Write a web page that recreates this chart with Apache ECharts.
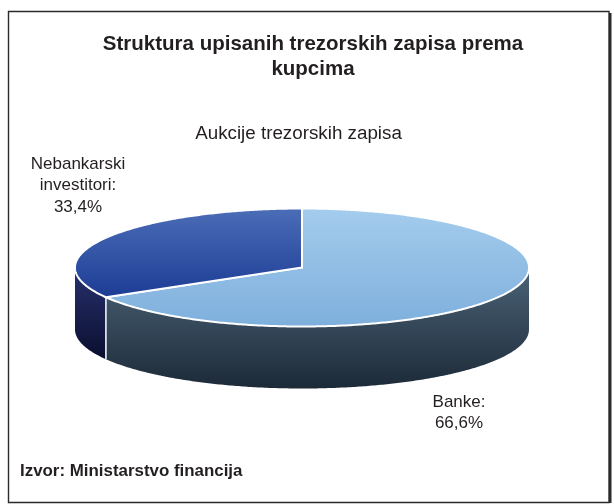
<!DOCTYPE html>
<html>
<head>
<meta charset="utf-8">
<style>html,body{margin:0;padding:0;background:#fff}#c{width:614px;height:504px}</style>
<script src="https://cdn.jsdelivr.net/npm/echarts@6/dist/echarts.min.js"></script>
</head>
<body>
<div id="c"></div>
<script>
var categories = ['Banke', 'Nebankarski\ninvestitori'];
var shares = [66.6, 33.4];
var valueLabels = ['66,6%', '33,4%'];
var titleText = 'Struktura upisanih trezorskih zapisa prema\nkupcima';
var subtitleText = 'Aukcije trezorskih zapisa';
var sourceText = 'Izvor: Ministarstvo financija';

var FONT = '"Liberation Sans", Arial, sans-serif';
var INK = '#231f20';
var CX = 302, CY = 267.5, RX = 227, RY = 59, DEPTH = 62;
var topFill = [['#a4cced', '#7eafdc'], ['#4c6db7', '#1c3c95']];
var wallFill = [['#4b6377', '#1c2a38'], ['#28316f', '#0a0f2e']];
var labelAt = [[459, 413], [78, 185.5]];

function px(a) { return CX + RX * Math.sin(a); }
function py(a) { return CY - RY * Math.cos(a); }
function grad(c) {
  return { type: 'linear', x: 0, y: 0, x2: 0, y2: 1,
    colorStops: [{ offset: 0, color: c[0] }, { offset: 1, color: c[1] }] };
}
function arcPoints(a0, a1, dy) {
  var pts = [], n = Math.max(2, Math.ceil(Math.abs(a1 - a0) / 0.01));
  for (var i = 0; i <= n; i++) {
    var a = a0 + (a1 - a0) * i / n;
    pts.push([px(a), py(a) + dy]);
  }
  return pts;
}
var total = shares.reduce(function (s, v) { return s + v; }, 0);

function renderItem(params, api) {
  var i = params.dataIndex, start = 0;
  for (var k = 0; k < i; k++) start += shares[k];
  var a0 = start / total * 2 * Math.PI;
  var a1 = (start + api.value(0)) / total * 2 * Math.PI;
  var children = [];

  // visible front wall: the part of the arc between 90 and 270 degrees
  var w0 = Math.max(a0, Math.PI / 2), w1 = Math.min(a1, 3 * Math.PI / 2);
  if (w1 > w0) {
    var wall = arcPoints(w0, w1, 0).concat(arcPoints(w1, w0, DEPTH));
    children.push({ type: 'polygon', z2: 1, shape: { points: wall },
      style: { fill: grad(wallFill[i]), stroke: null } });
    [w0, w1].forEach(function (a) {
      if (a > Math.PI / 2 + 1e-6 && a < 3 * Math.PI / 2 - 1e-6) {
        children.push({ type: 'line', z2: 2,
          shape: { x1: px(a), y1: py(a), x2: px(a), y2: py(a) + DEPTH },
          style: { stroke: '#e8edf2', lineWidth: 1.2 } });
      }
    });
  }
  // top face
  var top = [[CX, CY]].concat(arcPoints(a0, a1, 0));
  children.push({ type: 'polygon', z2: 3, shape: { points: top },
    style: { fill: grad(topFill[i]), stroke: '#ffffff', lineWidth: 2, lineJoin: 'miter' } });
  // value label
  children.push({ type: 'text', z2: 4, x: labelAt[i][0], y: labelAt[i][1],
    style: { text: categories[i] + ':\n' + valueLabels[i], fill: INK, font: '17px ' + FONT,
      align: 'center', verticalAlign: 'middle', lineHeight: 21.5 } });
  return { type: 'group', children: children };
}

var chart = echarts.init(document.getElementById('c'), null, { renderer: 'canvas' });
chart.setOption({
  animation: false,
  backgroundColor: '#ffffff',
  graphic: [
    { type: 'rect', z: 0, shape: { x: 8.5, y: 11.5, width: 600.5, height: 491 },
      style: { fill: '#ffffff', stroke: '#2b2b2b', lineWidth: 1.4 } },
    { type: 'rect', z: 0, shape: { x: 609, y: 13, width: 2.5, height: 490 },
      style: { fill: '#2b2b2b' } },
    { type: 'text', z: 5, x: 20, y: 471,
      style: { text: sourceText, fill: INK, font: 'bold 16.9px ' + FONT, verticalAlign: 'middle' } }
  ],
  title: [
    { text: titleText, left: 308, top: 27, textAlign: 'center',
      textStyle: { color: INK, fontFamily: FONT, fontWeight: 'bold', fontSize: 20.5, lineHeight: 25 } },
    { text: subtitleText, left: 293.5, top: 118, textAlign: 'center',
      textStyle: { color: INK, fontFamily: FONT, fontWeight: 'normal', fontSize: 18.8, lineHeight: 22 } }
  ],
  series: [{
    type: 'custom',
    coordinateSystem: 'none',
    silent: true,
    clip: false,
    data: shares.map(function (v, i) { return { name: categories[i], value: [v] }; }),
    renderItem: renderItem
  }]
});
</script>
</body>
</html>
